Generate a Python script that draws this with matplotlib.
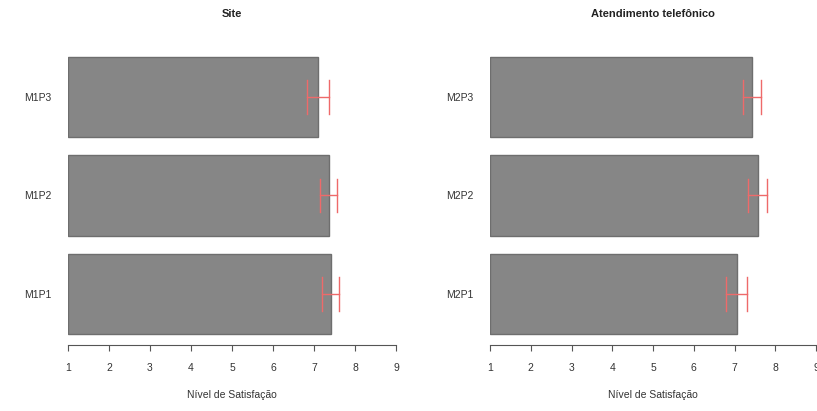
import matplotlib
matplotlib.use("Agg")
import matplotlib.pyplot as plt

plt.rcParams["font.family"] = ["Liberation Sans", "DejaVu Sans"]

labels_site = ["M1P1", "M1P2", "M1P3"]
means_site = [7.41, 7.37, 7.10]
low_site = [7.20, 7.15, 6.83]
high_site = [7.60, 7.56, 7.37]

labels_tel = ["M2P1", "M2P2", "M2P3"]
means_tel = [7.06, 7.58, 7.43]
low_tel = [6.79, 7.33, 7.21]
high_tel = [7.31, 7.80, 7.65]

titles = ["Site", "Atendimento telefônico"]
xlabel = "Nível de Satisfação"
ticks = [1, 2, 3, 4, 5, 6, 7, 8, 9]

W, H = 817, 411
fig = plt.figure(figsize=(W / 100, H / 100), dpi=100)

panels = [
    (68, 396, labels_site, means_site, low_site, high_site, titles[0]),
    (490, 816, labels_tel, means_tel, low_tel, high_tel, titles[1]),
]

top_px, bottom_px = 52.8, 345
for x0, x1, labs, means, lo, hi, title in panels:
    ax = fig.add_axes([x0 / W, 1 - bottom_px / H, (x1 - x0) / W, (bottom_px - top_px) / H])
    ypos = list(range(len(labs)))
    widths = [m - 1 for m in means]
    ax.barh(ypos, widths, left=1, height=0.82, color="#868686", edgecolor="#6e6e6e", linewidth=1)
    for y, a, b in zip(ypos, lo, hi):
        ax.plot([a, b], [y, y], color="#ee6a6a", lw=1)
        ax.plot([a, a], [y - 0.17, y + 0.17], color="#ee6a6a", lw=1)
        ax.plot([b, b], [y - 0.17, y + 0.17], color="#ee6a6a", lw=1)
    ax.set_xlim(1, 9)
    ax.set_ylim(-0.52, 2.45)
    ax.set_xticks(ticks)
    ax.set_yticks(ypos)
    ax.set_yticklabels(labs)
    for s in ["top", "right", "left"]:
        ax.spines[s].set_visible(False)
    ax.spines["bottom"].set_color("#555555")
    ax.tick_params(axis="y", length=0, pad=12, labelsize=7.5, labelcolor="#333333")
    ax.tick_params(axis="x", length=4, color="#555555", pad=9, labelsize=7.5, labelcolor="#333333")
    ax.set_xlabel(xlabel, fontsize=7.5, color="#333333", labelpad=12)
    ax.set_title(title, fontsize=8, fontweight="bold", color="#222222", pad=26)
    ax.patch.set_alpha(0)

fig.savefig("out.png", dpi=100)
